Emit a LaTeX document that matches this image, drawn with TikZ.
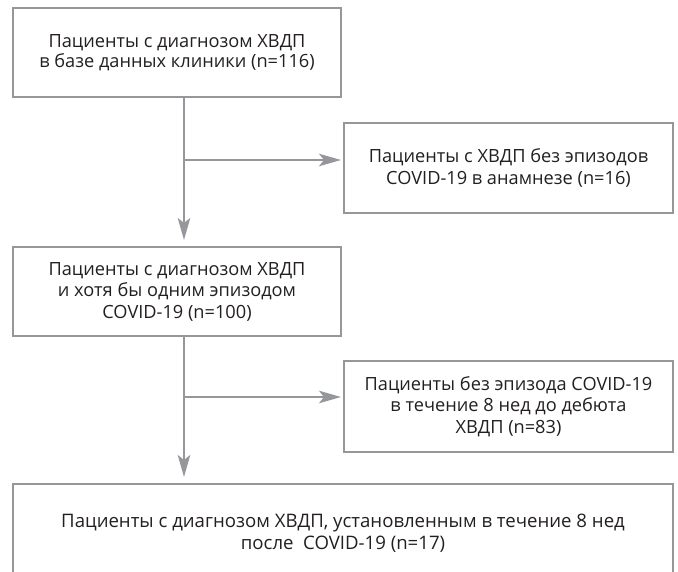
\documentclass[tikz,border=0pt]{standalone}
\usepackage{fontspec}
\setmainfont{Open Sans}
\usetikzlibrary{arrows.meta}
\definecolor{linegray}{RGB}{150,151,155}
\definecolor{textcol}{RGB}{35,31,32}
\tikzset{
  box/.style={draw=linegray, line width=2pt, inner sep=0pt, text=textcol, align=center,
    font=\fontsize{18.2}{21.5}\selectfont},
  conn/.style={draw=linegray, line width=2.2pt},
  arr/.style={conn, -{Stealth[length=22pt,width=12.5pt,inset=5pt]}}
}
\begin{document}
\begin{tikzpicture}[x=1pt,y=-1pt]
\clip (0,0) rectangle (678,572);
\node[box, minimum width=328pt, minimum height=89pt, font=\fontsize{18.2}{19.5}\selectfont] (B1) at (177,52.5)
  {Пациенты с диагнозом ХВДП\\в базе данных клиники (n=116)};
\node[box, minimum width=329pt, minimum height=90pt] (B2) at (508.5,168)
  {Пациенты с ХВДП без эпизодов\\COVID-19 в анамнезе (n=16)};
\node[box, minimum width=328pt, minimum height=89pt] (B3) at (177,291.5)
  {Пациенты с диагнозом ХВДП\\и хотя бы одним эпизодом\\COVID-19 (n=100)};
\node[box, minimum width=329pt, minimum height=91pt] (B4) at (508.5,406.5)
  {Пациенты без эпизода COVID-19\\в течение 8 нед до дебюта\\ХВДП (n=83)};
\node[box, minimum width=660pt, minimum height=98pt, font=\fontsize{18.6}{22}\selectfont] (B5) at (343,533)
  {Пациенты с диагнозом ХВДП, установленным в течение 8 нед\\после~ COVID-19 (n=17)};
\coordinate (v) at (184,0);
\coordinate (j1) at (184,160);
\coordinate (j2) at (184,397);
\draw[arr, shorten >=6pt] (B1.south -| v) -- (B3.north -| v);
\draw[arr, shorten >=2pt] (j1) -- (j1 -| B2.west);
\draw[arr, shorten >=6pt] (B3.south -| v) -- (B5.north -| v);
\draw[arr, shorten >=2pt] (j2) -- (j2 -| B4.west);
\end{tikzpicture}
\end{document}
